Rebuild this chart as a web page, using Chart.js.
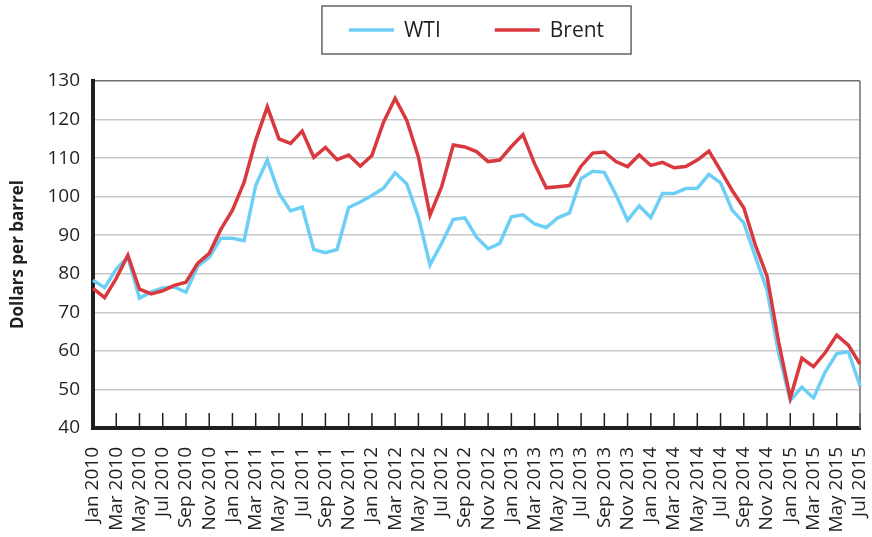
<!DOCTYPE html>
<html>
<head>
<meta charset="utf-8">
<script src="https://cdn.jsdelivr.net/npm/chart.js@4.4.1/dist/chart.umd.min.js"></script>
<style>
  html, body { margin: 0; padding: 0; background: #fff; }
</style>
</head>
<body>
<canvas id="oil" width="872" height="537"></canvas>
<script>
// monthly spot prices, Jan 2010 - Jul 2015, dollars per barrel
const monthNames = ['Jan', 'Feb', 'Mar', 'Apr', 'May', 'Jun', 'Jul', 'Aug', 'Sep', 'Oct', 'Nov', 'Dec'];
const years = [2010, 2011, 2012, 2013, 2014, 2015];
const lastMonth = 7; // data stops at Jul 2015

const wti = [
  78.3, 76.4, 81.2, 84.3, 73.7, 75.3, 76.3, 76.6, 75.2, 81.9, 84.3, 89.2,
  89.2, 88.6, 102.9, 109.5, 100.9, 96.3, 97.3, 86.3, 85.5, 86.3, 97.2, 98.6,
  100.3, 102.2, 106.2, 103.3, 94.7, 82.3, 87.9, 94.1, 94.5, 89.5, 86.5, 87.9,
  94.8, 95.3, 92.9, 92.0, 94.5, 95.8, 104.7, 106.6, 106.3, 100.5, 93.9, 97.6,
  94.6, 100.8, 100.8, 102.1, 102.2, 105.8, 103.6, 96.5, 93.2, 84.4, 75.8, 59.3,
  47.2, 50.6, 47.8, 54.5, 59.3, 59.8, 50.9
];
const brent = [
  76.2, 73.8, 78.8, 84.8, 76.0, 74.8, 75.6, 77.0, 77.8, 82.7, 85.3, 91.5,
  96.5, 103.7, 114.6, 123.3, 115.0, 113.8, 117.0, 110.2, 112.8, 109.6, 110.8, 107.9,
  110.7, 119.3, 125.5, 119.8, 110.3, 95.2, 102.6, 113.4, 112.9, 111.7, 109.1, 109.5,
  113.0, 116.1, 108.5, 102.3, 102.6, 102.9, 107.9, 111.3, 111.6, 109.1, 107.8, 110.8,
  108.1, 108.9, 107.5, 107.8, 109.5, 111.8, 106.8, 101.6, 97.1, 87.4, 79.4, 62.3,
  47.8, 58.1, 55.9, 59.5, 64.1, 61.5, 56.6
];

const labels = [];
years.forEach(y => {
  const n = y === years[years.length - 1] ? lastMonth : 12;
  for (let m = 0; m < n; m++) labels.push(monthNames[m] + ' ' + y);
});

const FONT = '"Open Sans", sans-serif';
const INK = '#231f20';

// boxed legend centred over the plot, drawn from the datasets
const boxLegend = {
  id: 'boxLegend',
  afterDraw(chart) {
    const { ctx, chartArea: a } = chart;
    const lineLen = 45, gapText = 10, gapItem = 54, padX = 27;
    ctx.save();
    ctx.font = '21px ' + FONT;
    const items = chart.data.datasets.map(d => ({ text: d.label, color: d.borderColor, w: ctx.measureText(d.label).width }));
    let total = 0;
    items.forEach((it, i) => { total += lineLen + gapText + it.w + (i ? gapItem : 0); });
    const boxW = total + padX * 2, boxTop = 6, boxH = 48;
    const left = (a.left + a.right) / 2 - boxW / 2;
    const cy = boxTop + boxH / 2;
    ctx.strokeStyle = '#4d4d4f';
    ctx.lineWidth = 1.3;
    ctx.strokeRect(left, boxTop, boxW, boxH);
    let x = left + padX;
    ctx.textBaseline = 'middle';
    ctx.fillStyle = INK;
    items.forEach(it => {
      ctx.strokeStyle = it.color;
      ctx.lineWidth = 3.5;
      ctx.beginPath();
      ctx.moveTo(x, cy);
      ctx.lineTo(x + lineLen, cy);
      ctx.stroke();
      ctx.fillText(it.text, x + lineLen + gapText, cy + 1);
      x += lineLen + gapText + it.w + gapItem;
    });
    ctx.restore();
  }
};

// inner tick marks on the labelled months and the right frame line
const frame = {
  id: 'frame',
  beforeDatasetsDraw(chart) {
    const { ctx, chartArea: a, scales: { x } } = chart;
    ctx.save();
    ctx.strokeStyle = INK;
    ctx.lineWidth = 1.5;
    x.ticks.forEach((t, i) => {
      if (i % 2) return;
      const px = x.getPixelForTick(i);
      ctx.beginPath();
      ctx.moveTo(px, a.bottom);
      ctx.lineTo(px, a.bottom - 15);
      ctx.stroke();
    });
    ctx.strokeStyle = '#6d6e71';
    ctx.beginPath();
    ctx.moveTo(a.right, a.top);
    ctx.lineTo(a.right, a.bottom);
    ctx.stroke();
    ctx.restore();
  }
};

new Chart(document.getElementById('oil'), {
  type: 'line',
  data: {
    labels: labels,
    datasets: [
      { label: 'WTI', data: wti, borderColor: '#6dcff6', borderWidth: 3.5, order: 1 },
      { label: 'Brent', data: brent, borderColor: '#d9383f', borderWidth: 3.5, order: 0 }
    ]
  },
  options: {
    responsive: false,
    animation: false,
    devicePixelRatio: 1,
    layout: { padding: { top: 81, right: 12, left: 0, bottom: 0 } },
    elements: {
      point: { radius: 0 },
      line: { tension: 0, borderJoinStyle: 'miter', fill: false }
    },
    plugins: { legend: { display: false }, tooltip: { enabled: false } },
    scales: {
      x: {
        type: 'category',
        offset: false,
        grid: { display: false },
        border: { color: INK, width: 4 },
        ticks: {
          autoSkip: false,
          maxRotation: 90,
          minRotation: 90,
          padding: 11,
          color: INK,
          font: { family: FONT, size: 19 },
          callback: function (v, i) { return i % 2 === 0 ? this.getLabelForValue(v) : ''; }
        },
        afterFit: s => { s.height = 109; s.paddingLeft = 0; s.paddingRight = 0; }
      },
      y: {
        min: 40,
        max: 130,
        border: { color: INK, width: 4 },
        grid: {
          drawTicks: false,
          lineWidth: 1.5,
          color: c => c.tick && c.tick.value === 130 ? '#6d6e71' : '#c8c8c8'
        },
        ticks: {
          stepSize: 10,
          padding: 13,
          color: INK,
          font: { family: FONT, size: 19 }
        },
        title: {
          display: true,
          text: 'Dollars per barrel',
          color: INK,
          font: { family: FONT, size: 17, weight: 'bold' },
          padding: { top: 8, bottom: 4 }
        },
        afterFit: s => { s.width = 93; }
      }
    }
  },
  plugins: [frame, boxLegend]
});
</script>
</body>
</html>
